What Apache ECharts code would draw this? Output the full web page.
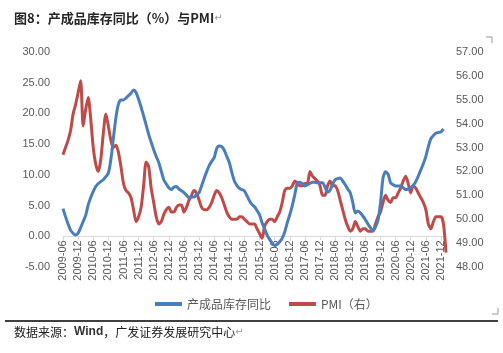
<!DOCTYPE html>
<html>
<head>
<meta charset="utf-8">
<script src="https://cdn.jsdelivr.net/npm/echarts@6/dist/echarts.min.js"></script>
<style>
html, body { margin: 0; padding: 0; background: #fff; }
#chart { width: 503px; height: 353px; }
</style>
</head>
<body>
<div id="chart"></div>
<script>
'use strict';

// 月度序列：2009-06 起
const startYear = 2009;
const startMonth = 6;
const monthCount = 153;

// 产成品库存同比（%，左轴）
const inventoryYoY = [
    4.5, 3.2, 2.0, 1.0, 0.5, 0.2, 0.5, 1.4, 2.4, 3.4, 5.1, 6.3,
    7.3, 8.1, 8.6, 8.9, 9.2, 9.7, 10.3, 12.5, 16.0, 19.3, 21.5, 22.2,
    22.2, 22.5, 22.9, 23.3, 23.8, 23.4, 22.3, 21.0, 19.6, 18.1, 16.6, 15.3,
    14.1, 13.0, 12.0, 10.6, 9.2, 8.5, 7.9, 7.6, 8.0, 8.1, 7.7, 7.4,
    7.1, 6.7, 6.3, 6.4, 6.4, 6.8, 7.1, 8.2, 9.4, 10.5, 11.5, 12.2,
    12.8, 14.3, 14.7, 14.6, 14.0, 13.0, 12.0, 10.4, 9.0, 8.3, 7.8, 7.6,
    7.4, 6.6, 5.8, 5.2, 4.8, 4.2, 3.5, 2.2, 1.2, 0.2, -0.5, -1.1,
    -1.5, -1.3, -0.9, -0.3, 0.7, 2.2, 3.5, 5.0, 6.8, 8.7, 8.8, 8.6,
    8.2, 8.4, 8.6, 8.8, 8.8, 8.7, 8.7, 8.7, 8.0, 7.2, 7.5, 8.5,
    9.2, 9.4, 9.5, 9.0, 8.4, 7.7, 7.1, 5.5, 3.8, 4.1, 3.8, 3.3,
    2.7, 2.0, 1.4, 0.9, 1.5, 2.6, 5.4, 9.5, 10.5, 10.1, 8.7, 8.4,
    8.2, 8.2, 8.2, 7.9, 7.6, 7.7, 7.9, 8.3, 8.9, 9.8, 10.8, 11.8,
    13.0, 14.6, 15.9, 16.4, 16.8, 16.9, 17.0, 17.5
];

// PMI（右轴）
const pmi = [
    52.7, 53.0, 53.3, 53.7, 54.4, 54.8, 55.3, 55.8, 53.9, 54.6, 55.1, 54.2,
    53.0, 52.3, 52.0, 52.5, 53.6, 54.4, 53.9, 53.3, 53.0, 53.1, 52.8, 52.2,
    51.5, 51.2, 51.1, 50.9, 50.4, 49.9, 50.1, 50.5, 51.4, 52.4, 52.2, 51.3,
    50.7, 50.1, 49.8, 49.9, 50.2, 50.4, 50.5, 50.3, 50.3, 50.5, 50.6, 50.6,
    50.3, 50.5, 50.8, 51.0, 51.2, 51.1, 50.8, 50.5, 50.4, 50.4, 50.5, 50.7,
    51.0, 51.2, 51.1, 50.9, 50.6, 50.3, 50.1, 50.0, 50.0, 50.0, 50.1, 50.1,
    50.0, 49.9, 49.8, 49.8, 49.8, 49.6, 49.4, 49.2, 49.7, 49.9, 50.0, 50.0,
    49.9, 50.1, 50.3, 50.7, 51.2, 51.3, 51.3, 51.4, 51.6, 51.5, 51.4, 51.4,
    51.5, 51.5, 52.0, 51.8, 51.7, 51.6, 51.4, 51.0, 51.0, 51.4, 51.6, 51.4,
    51.4, 51.2, 50.8, 50.4, 50.0, 49.7, 49.5, 49.6, 49.9, 49.7, 49.5, 49.6,
    49.6, 49.5, 49.5, 49.5, 49.8, 50.1, 50.3, 50.7, 51.0, 50.8, 50.7, 50.9,
    50.9, 51.1, 51.3, 51.6, 51.8, 51.5, 51.1, 51.4, 51.3, 51.1, 50.9, 50.7,
    50.4, 49.8, 49.6, 49.9, 50.1, 50.1, 50.1, 49.8, 48.6
];

// 坐标轴刻度 [min, max, interval]
const leftAxisTicks = [-5, 30, 5];
const rightAxisTicks = [48, 57, 1];

const seriesNames = ['产成品库存同比', 'PMI（右）'];
const seriesColors = ['#4a7ebb', '#be4b48'];

function buildMonths() {
    const list = [];
    for (let i = 0; i < monthCount; i++) {
        const m = startMonth - 1 + i;
        const y = startYear + Math.floor(m / 12);
        const mm = (m % 12) + 1;
        list.push(y + '-' + (mm < 10 ? '0' + mm : mm));
    }
    return list;
}
const months = buildMonths();

// 绘图区
const gridTop = 52;
const gridBottom = 86;
const plotHeight = 353 - gridTop - gridBottom;
// 横轴放在左轴 0 值处（横轴标签跟随）
const zeroOffset = -plotHeight * (0 - leftAxisTicks[0]) / (leftAxisTicks[1] - leftAxisTicks[0]);

const axisFont = { color: '#595959', fontSize: 11, fontFamily: 'Liberation Sans, Arial, sans-serif' };

const chart = echarts.init(document.getElementById('chart'), null, { renderer: 'canvas' });
chart.setOption({
    animation: false,
    backgroundColor: '#fff',
    grid: { left: 63, right: 57, top: gridTop, bottom: gridBottom, containLabel: false },
    legend: {
        left: 150,
        top: 293,
        itemGap: 18,
        itemWidth: 27,
        itemHeight: 4,
        icon: 'rect',
        textStyle: { color: '#595959', fontSize: 12, fontFamily: 'Noto Sans CJK SC, sans-serif' },
        data: seriesNames
    },
    xAxis: {
        type: 'category',
        boundaryGap: false,
        data: months,
        offset: zeroOffset,
        axisLine: { onZero: false, lineStyle: { color: '#d9d9d9', width: 1 } },
        axisTick: { interval: 5, length: 4, lineStyle: { color: '#d9d9d9' } },
        axisLabel: Object.assign({ interval: 5, rotate: 90, margin: 4 }, axisFont),
        splitLine: { show: false }
    },
    yAxis: [
        {
            type: 'value',
            min: leftAxisTicks[0],
            max: leftAxisTicks[1],
            interval: leftAxisTicks[2],
            axisLine: { show: false },
            axisTick: { show: false },
            splitLine: { show: false },
            axisLabel: Object.assign({ margin: 13, formatter: v => v.toFixed(2) }, axisFont)
        },
        {
            type: 'value',
            min: rightAxisTicks[0],
            max: rightAxisTicks[1],
            interval: rightAxisTicks[2],
            axisLine: { show: false },
            axisTick: { show: false },
            splitLine: { show: false },
            axisLabel: Object.assign({ margin: 10, formatter: v => v.toFixed(2) }, axisFont)
        }
    ],
    series: [
        {
            name: seriesNames[0],
            type: 'line',
            yAxisIndex: 0,
            data: inventoryYoY,
            smooth: 0.25,
            showSymbol: false,
            z: 3,
            itemStyle: { color: seriesColors[0] },
            lineStyle: { color: seriesColors[0], width: 3 }
        },
        {
            name: seriesNames[1],
            type: 'line',
            yAxisIndex: 1,
            data: pmi,
            smooth: 0.25,
            showSymbol: false,
            z: 2,
            itemStyle: { color: seriesColors[1] },
            lineStyle: { color: seriesColors[1], width: 3 }
        }
    ],
    graphic: [
        {
            type: 'text',
            left: 14,
            top: 12,
            style: {
                text: '{b|图8：产成品库存同比（%）与PMI}{m|↵}',
                rich: {
                    b: { fontSize: 13, fontWeight: 'bold', fill: '#262626', fontFamily: 'Noto Sans CJK SC, sans-serif' },
                    m: { fontSize: 10, fill: '#999', fontFamily: 'DejaVu Sans, sans-serif' }
                }
            }
        },
        {
            type: 'line',
            shape: { x1: 5, y1: 321, x2: 498, y2: 321 },
            style: { stroke: '#000', lineWidth: 1.5 }
        },
        {
            type: 'text',
            left: 14,
            top: 326,
            style: {
                text: '{n|数据来源：}{w|Wind}{n|，广发证券发展研究中心}{m|↵}',
                rich: {
                    n: { fontSize: 12, fill: '#1a1a1a', fontFamily: 'Noto Sans CJK SC, sans-serif' },
                    w: { fontSize: 12, fontWeight: 'bold', fill: '#333', fontFamily: 'Liberation Sans, Arial, sans-serif' },
                    m: { fontSize: 10, fill: '#999', fontFamily: 'DejaVu Sans, sans-serif' }
                }
            }
        },
        {
            type: 'polyline',
            shape: { points: [[486, 37], [492, 37], [492, 43]] },
            style: { stroke: '#999', lineWidth: 1, fill: null }
        },
        {
            type: 'polyline',
            shape: { points: [[498, 308], [498, 314], [492, 314]] },
            style: { stroke: '#999', lineWidth: 1, fill: null }
        }
    ]
});
</script>
</body>
</html>
